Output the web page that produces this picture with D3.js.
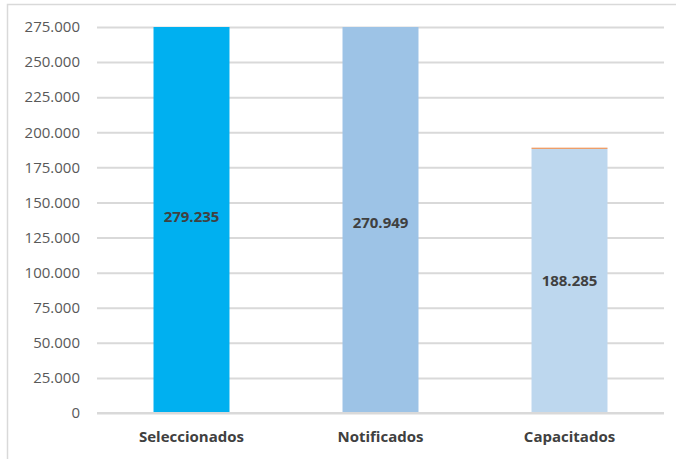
<!DOCTYPE html>
<html><head><meta charset="utf-8">
<script src="https://cdn.jsdelivr.net/npm/d3@7"></script>
<style>body{margin:0;background:#fff;} svg{display:block;}</style>
</head><body>
<svg id="c" width="676" height="459"></svg>
<script>
const categories = ["Seleccionados", "Notificados", "Capacitados"];
const values = [279235, 270949, 188285];
// drawn bar heights as seen in the picture (Notificados bar reaches the axis top)
const barValues = [279235, 276000, 188285];
const extra = [0, 0, 700];
const labels = ["279.235", "270.949", "188.285"];
const tickValues = [0,25000,50000,75000,100000,125000,150000,175000,200000,225000,250000,275000];
const tickLabels = ["0","25.000","50.000","75.000","100.000","125.000","150.000","175.000","200.000","225.000","250.000","275.000"];
const colors = ["#00B0F0", "#9DC3E6", "#BDD7EE"];

(function(){
const svg = d3.select("#c");
const font = "'Open Sans', sans-serif";
svg.append("rect").attr("x",7.5).attr("y",4.5).attr("width",700).attr("height",500)
  .attr("fill","none").attr("stroke","#D9D9D9").attr("stroke-width",1.5);

const pl = 97, pr = 664, pt = 27, pb = 413;
const y = d3.scaleLinear().domain([0,275000]).range([pb, pt]);
const x = d3.scaleBand().domain(categories).range([pl, pr]).paddingInner(0.598).paddingOuter(0.299);

svg.append("clipPath").attr("id","pc").append("rect")
  .attr("x",pl).attr("y",pt).attr("width",pr-pl).attr("height",pb-pt);

const yAxis = d3.axisLeft(y).tickValues(tickValues).tickSize(-(pr-pl)).tickFormat((d,i)=>tickLabels[i]);
const gy = svg.append("g").attr("transform",`translate(${pl},0)`).call(yAxis);
gy.select(".domain").remove();
gy.selectAll(".tick line").attr("stroke","#D9D9D9").attr("stroke-width",2);
gy.selectAll(".tick text").attr("x",-17).attr("fill","#595959").style("font-family",font).style("font-size","15px");

const g = svg.append("g").attr("clip-path","url(#pc)");
g.selectAll("rect.b").data(barValues).join("rect").attr("class","b")
  .attr("x",(d,i)=>x(categories[i])).attr("width",x.bandwidth())
  .attr("y",d=>y(d)).attr("height",d=>pb-y(d)).attr("fill",(d,i)=>colors[i]);
g.selectAll("rect.e").data(extra).join("rect").attr("class","e")
  .attr("x",(d,i)=>x(categories[i])).attr("width",x.bandwidth())
  .attr("y",(d,i)=>y(barValues[i]+d)).attr("height",(d,i)=>y(barValues[i])-y(barValues[i]+d)).attr("fill","#ED7D31");

svg.append("line").attr("x1",pl).attr("x2",pr).attr("y1",pb).attr("y2",pb).attr("stroke","#D9D9D9").attr("stroke-width",2);

svg.selectAll("text.dl").data(values).join("text").attr("class","dl")
  .attr("x",(d,i)=>x(categories[i])+x.bandwidth()/2)
  .attr("y",d=>(y(d)+pb)/2)
  .attr("dy","0.35em").attr("text-anchor","middle")
  .attr("fill","#404040").style("font-family",font).style("font-size","15px").style("font-weight","bold")
  .text((d,i)=>labels[i]);

const xAxis = d3.axisBottom(x).tickSize(0).tickPadding(18);
const gx = svg.append("g").attr("transform",`translate(0,${pb})`).call(xAxis);
gx.select(".domain").remove();
gx.selectAll(".tick text").attr("fill","#404040").style("font-family",font).style("font-size","15px").style("font-weight","bold");
})();
</script>
</body></html>
